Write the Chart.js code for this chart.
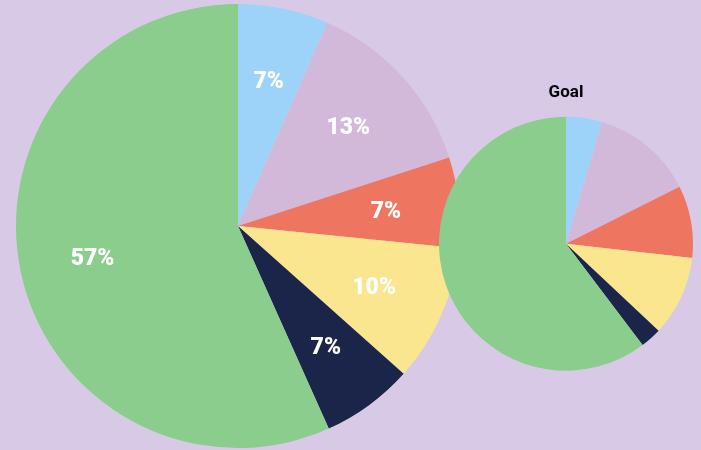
<!DOCTYPE html>
<html>
<head>
<meta charset="utf-8">
<script src="https://cdn.jsdelivr.net/npm/chart.js@4"></script>
<style>
  html, body { margin: 0; padding: 0; }
  body { width: 701px; height: 450px; background: #d8cae6; position: relative; overflow: hidden; }
  canvas { position: absolute; }
</style>
</head>
<body>
<canvas id="current" width="444" height="444" style="left:16px;top:4px"></canvas>
<canvas id="goal" width="254" height="288" style="left:439px;top:83px"></canvas>
<script>
// slices, clockwise from 12 o'clock
const categories = ['Blue', 'Lilac', 'Coral', 'Yellow', 'Navy', 'Green']
const colors = ['#9dd3f9', '#d2b9d9', '#ee7560', '#f9e68e', '#1b2449', '#8bcd8d']

// (percent)
const currentValues = [6.6, 13.4, 6.6, 10, 6.7, 56.7]
const goalValues = [4.6, 13, 9.2, 10.2, 2.7, 60.3]

// white % labels inside the slices
const sliceLabels = {
  id: 'sliceLabels',
  afterDatasetsDraw(chart, args, opts) {
    if (!opts.show) return
    const ctx = chart.ctx
    const data = chart.data.datasets[0].data
    ctx.save()
    ctx.fillStyle = '#ffffff'
    ctx.font = '900 23px Roboto'
    ctx.textAlign = 'center'
    ctx.textBaseline = 'middle'
    chart.getDatasetMeta(0).data.forEach((arc, i) => {
      const p = arc.getProps(['x', 'y', 'startAngle', 'endAngle', 'outerRadius'], true)
      const mid = (p.startAngle + p.endAngle) / 2
      const r = p.outerRadius * 0.67
      ctx.fillText(Math.round(data[i]) + '%', p.x + Math.cos(mid) * r, p.y + Math.sin(mid) * r + 2)
    })
    ctx.restore()
  }
}

function pieConfig(values, title, showLabels) {
  return {
    type: 'pie',
    data: {
      labels: categories,
      datasets: [{
        data: values,
        backgroundColor: colors,
        borderWidth: 0
      }]
    },
    options: {
      responsive: false,
      animation: false,
      layout: { padding: 0 },
      plugins: {
        legend: { display: false },
        tooltip: { enabled: false },
        title: {
          display: !!title,
          text: title,
          color: '#000000',
          font: { family: 'Roboto', size: 17, weight: 'bold' },
          padding: { top: 0, bottom: 13 }
        },
        sliceLabels: { show: showLabels }
      }
    },
    plugins: [sliceLabels]
  }
}

const currentChart = new Chart(document.getElementById('current'), pieConfig(currentValues, '', true))
const goalChart = new Chart(document.getElementById('goal'), pieConfig(goalValues, 'Goal', false))
</script>
</body>
</html>
